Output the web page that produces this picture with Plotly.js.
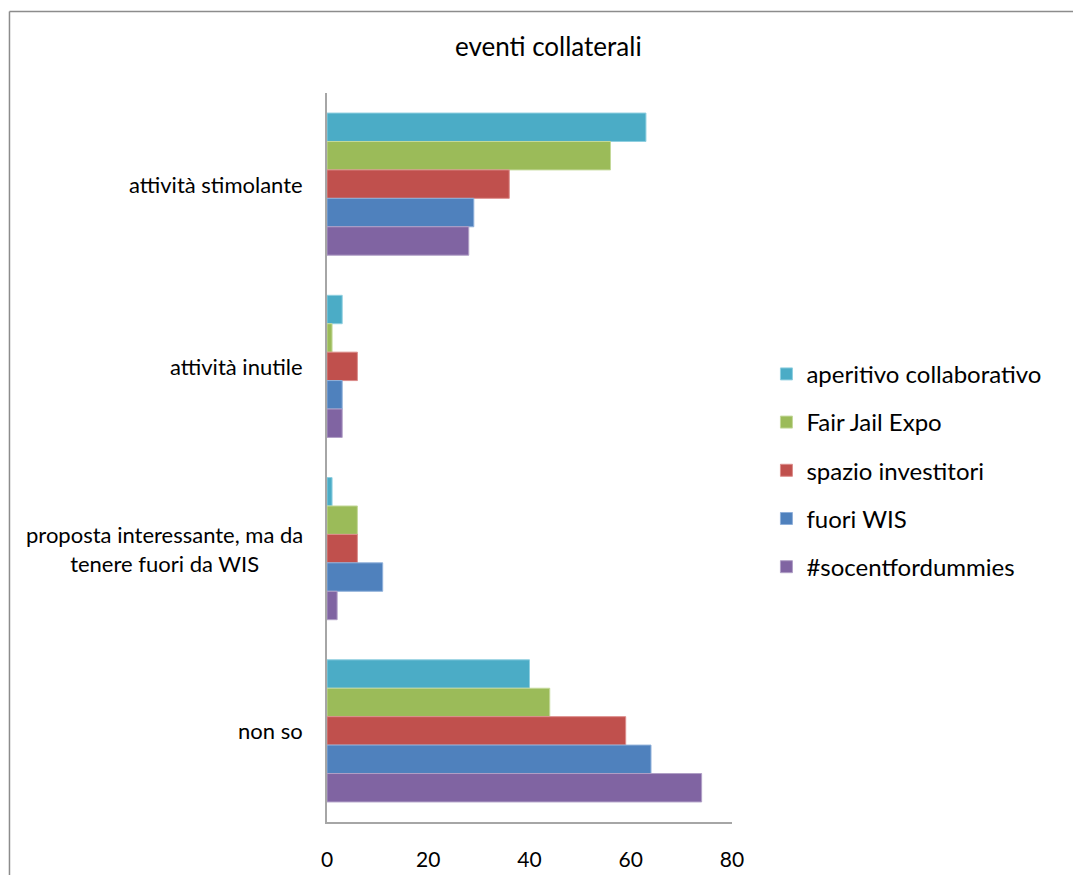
<!DOCTYPE html>
<html>
<head>
<meta charset="utf-8">
<script src="https://cdn.plot.ly/plotly-3.0.1.min.js"></script>
<style>html,body{margin:0;padding:0;background:#fff;}#chart{width:1073px;height:875px;}</style>
</head>
<body>
<div id="chart"></div>
<script>
const categories = ["attività stimolante", "attività inutile", "proposta interessante, ma da<br>tenere fuori da WIS", "non so"];
const seriesNames = ["aperitivo collaborativo", "Fair Jail Expo", "spazio investitori", "fuori WIS", "#socentfordummies"];
const aperitivo = [63, 3, 1, 40];
const fairJail = [56, 1, 6, 44];
const spazio = [36, 6, 6, 59];
const fuoriWIS = [29, 3, 11, 64];
const socent = [28, 3, 2, 74];
const xTicks = [0, 20, 40, 60, 80];

const values = [aperitivo, fairJail, spazio, fuoriWIS, socent];
const colors = ["#4bacc6", "#9bbb59", "#c0504d", "#4f81bd", "#8064a2"];
const lineColors = ["#8fcfe0", "#c4d99a", "#dc8d8b", "#8fb0da", "#b09fc6"];

const FONT = "Lato, 'Open Sans', sans-serif";

const traces = values.map((v, i) => ({
  type: "bar",
  orientation: "h",
  name: seriesNames[i],
  y: categories,
  x: v,
  legendgroup: "g" + i,
  marker: {color: colors[i], line: {color: lineColors[i], width: 1}},
  hoverinfo: "x+name"
}));

const catAnnotations = categories.map(c => ({
  xref: "paper", x: 0, xshift: -22, xanchor: "right",
  yref: "y", y: c, yanchor: "middle",
  text: c, align: "center", showarrow: false,
  font: {family: FONT, size: 22, color: "#000000"}
}));

const layout = {
  width: 1073,
  height: 875,
  margin: {l: 327, r: 341, t: 93, b: 53},
  paper_bgcolor: "#ffffff",
  plot_bgcolor: "#ffffff",
  barmode: "group",
  bargap: 0.22,
  bargroupgap: 0,
  font: {family: FONT, color: "#000000"},
  title: {
    text: "eventi collaterali",
    font: {family: FONT, size: 26, color: "#000000"},
    xref: "container", x: 0.511, xanchor: "center",
    yref: "container", y: 0.946, yanchor: "middle"
  },
  xaxis: {
    range: [0, 80],
    tickvals: xTicks,
    ticktext: xTicks.map(String),
    showgrid: false,
    zeroline: false,
    showline: true,
    linecolor: "#a6a6a6",
    linewidth: 1.5,
    ticks: "",
    ticklabelstandoff: 18,
    tickfont: {family: FONT, size: 21, color: "#000000"},
    fixedrange: true
  },
  yaxis: {
    autorange: "reversed",
    type: "category",
    showgrid: false,
    zeroline: false,
    showline: true,
    linecolor: "#a6a6a6",
    linewidth: 1.5,
    ticks: "",
    showticklabels: false,
    fixedrange: true
  },
  annotations: catAnnotations,
  legend: {
    x: 1.085, xanchor: "left",
    y: 0.645, yanchor: "top",
    font: {family: FONT, size: 24, color: "#000000"},
    tracegroupgap: 14,
    traceorder: "grouped",
    bgcolor: "rgba(0,0,0,0)"
  },
  shapes: [
    {type: "line", xref: "paper", yref: "paper", x0: -0.784, x1: 1.842, y0: 1.1118, y1: 1.1118, line: {color: "#8c8c8c", width: 1.5}},
    {type: "line", xref: "paper", yref: "paper", x0: -0.784, x1: -0.784, y0: 1.1118, y1: -0.08, line: {color: "#8c8c8c", width: 1.5}}
  ],
  showlegend: true
};

Plotly.newPlot("chart", traces, layout, {displayModeBar: false});
</script>
</body>
</html>
